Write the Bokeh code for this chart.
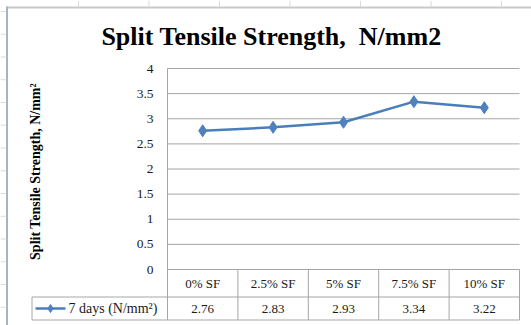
import numpy as np
from bokeh.plotting import figure
from bokeh.models import Range1d
from bokeh.core.properties import value
from bokeh.embed import file_html
from bokeh.resources import INLINE

# --- data -------------------------------------------------------------
categories = ["0% SF", "2.5% SF", "5% SF", "7.5% SF", "10% SF"]
strength_7d = [2.76, 2.83, 2.93, 3.34, 3.22]
series_name = "7 days (N/mm\u00b2)"
y_ticks = [0, 0.5, 1, 1.5, 2, 2.5, 3, 3.5, 4]
y_tick_labels = ["0", "0.5", "1", "1.5", "2", "2.5", "3", "3.5", "4"]
# a no-break space keeps the wide gap before the unit in SVG text
chart_title = "Split Tensile Strength, \u00a0N/mm2"
y_axis_title = "Split Tensile Strength, N/mm\u00b2"

# --- layout (pixels on the 531 x 325 canvas) ---------------------------
W, H = 531, 325
PLOT_L, PLOT_R = 167, 519      # plot area left/right edges
PLOT_TOP, PLOT_ZERO = 68, 269  # pixel rows of y = 4 and y = 0
ROW_MID = 296.5                # line between header row and data row
TABLE_BOT = 319.5
LEGEND_L = 31.5

n = len(categories)
ux = (PLOT_R - PLOT_L) / n
uy = (PLOT_ZERO - PLOT_TOP) / max(y_ticks)


def dx(px):
    return (px - PLOT_L) / ux


def dy(py):
    return (PLOT_ZERO - py) / uy


SERIF = value("Liberation Serif")
GRID = "#a6a6a6"
LINE_BLUE = "#4a7ebb"
MARK_BLUE = "#4f81bd"

p = figure(width=W, height=H, output_backend="svg", toolbar_location=None,
           title=None, x_axis_type=None, y_axis_type=None,
           x_range=Range1d(dx(0), dx(W)), y_range=Range1d(dy(H), dy(0)),
           min_border=0)
p.min_border_left = p.min_border_right = p.min_border_top = p.min_border_bottom = 0
p.outline_line_color = None
p.grid.visible = False
p.background_fill_color = "white"
p.border_fill_color = "white"

# --- sheet gridline stubs and chart border ----------------------------
col_marks = np.arange(78, W, 70.5)
p.segment(x0=[dx(c) for c in col_marks], x1=[dx(c) for c in col_marks],
          y0=dy(0), y1=dy(6), line_color="#d9d9d9", line_width=1)
row_marks = np.arange(11, H, 22.75)
p.segment(x0=dx(0), x1=dx(5), y0=[dy(r) for r in row_marks],
          y1=[dy(r) for r in row_marks], line_color="#d9d9d9", line_width=1)
p.segment(x0=[dx(6)], x1=[dx(W)], y0=[dy(7)], y1=[dy(7)],
          line_color="#c8c8c8", line_width=2)
p.segment(x0=[dx(6.5)], x1=[dx(6.5)], y0=[dy(6)], y1=[dy(H)],
          line_color="#aab2bd", line_width=2)

# --- title and axis title ---------------------------------------------
p.text(x=[dx(271)], y=[dy(36)], text=[chart_title], text_font=SERIF,
       text_font_style="bold", text_font_size="26px", text_color="#000000",
       text_align="center", text_baseline="middle")
p.text(x=[dx(35)], y=[dy(171)], text=[y_axis_title], angle=np.pi / 2,
       text_font=SERIF, text_font_style="bold", text_font_size="14px",
       text_color="#000000", text_align="center", text_baseline="middle")

# --- value gridlines, axis line and tick labels ------------------------
p.segment(x0=0, x1=n, y0=y_ticks, y1=y_ticks, line_color=GRID, line_width=1)
p.segment(x0=[0], x1=[0], y0=[dy(TABLE_BOT)], y1=[max(y_ticks)],
          line_color=GRID, line_width=1)
p.text(x=dx(153), y=y_ticks, text=y_tick_labels, text_font=SERIF,
       text_font_size="13.5px", text_color="#1a1a1a",
       text_align="right", text_baseline="middle")

# --- data table under the plot -----------------------------------------
p.segment(x0=[dx(LEGEND_L)] * 2, x1=[n] * 2,
          y0=[dy(ROW_MID), dy(TABLE_BOT)], y1=[dy(ROW_MID), dy(TABLE_BOT)],
          line_color=GRID, line_width=1)
col_edges = list(range(1, n + 1))
p.segment(x0=col_edges, x1=col_edges, y0=dy(TABLE_BOT), y1=0,
          line_color=GRID, line_width=1)
p.segment(x0=[dx(LEGEND_L)], x1=[dx(LEGEND_L)], y0=[dy(TABLE_BOT)],
          y1=[dy(ROW_MID)], line_color=GRID, line_width=1)

centers = [i + 0.5 for i in range(n)]
p.text(x=centers, y=dy((PLOT_ZERO + ROW_MID) / 2), text=categories,
       text_font=SERIF, text_font_size="13px", text_color="#1a1a1a",
       text_align="center", text_baseline="middle")
p.text(x=centers, y=dy((ROW_MID + TABLE_BOT) / 2),
       text=[f"{v:.2f}" for v in strength_7d],
       text_font=SERIF, text_font_size="13px", text_color="#1a1a1a",
       text_align="center", text_baseline="middle")

# legend key inside the table
key_y = dy((ROW_MID + TABLE_BOT) / 2)
p.line(x=[dx(35), dx(65)], y=[key_y, key_y], line_color=LINE_BLUE, line_width=2.5)
p.scatter(x=[dx(50)], y=[key_y], marker="diamond", size=8,
          fill_color=MARK_BLUE, line_color=MARK_BLUE)
p.text(x=[dx(68)], y=[key_y], text=[series_name], text_font=SERIF,
       text_font_size="14px", text_color="#1a1a1a",
       text_align="left", text_baseline="middle")

# --- the series ---------------------------------------------------------
p.line(x=centers, y=strength_7d, line_color=LINE_BLUE, line_width=2.5)
p.scatter(x=centers, y=strength_7d, marker="diamond", size=12,
          fill_color=MARK_BLUE, line_color=MARK_BLUE)

open("out.html", "w").write(file_html(p, INLINE))
